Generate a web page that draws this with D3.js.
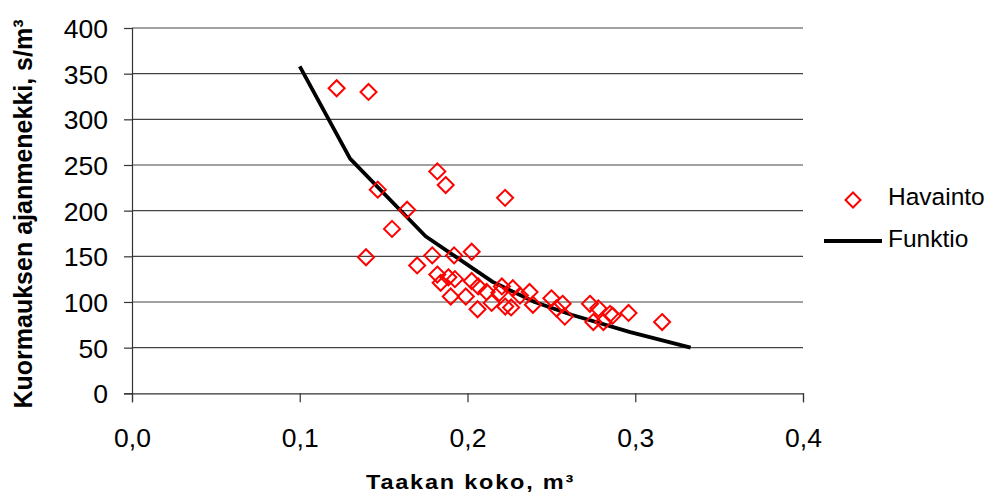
<!DOCTYPE html>
<html>
<head>
<meta charset="utf-8">
<script src="https://cdn.jsdelivr.net/npm/d3@7"></script>
<style>
  html, body { margin: 0; padding: 0; background: #fff; }
  svg text { font-family: "Liberation Sans", Arial, sans-serif; fill: #000; }
</style>
</head>
<body>
<svg id="chart" width="988" height="502"></svg>
<script>
// Observed load sizes (m³) and loading times (s/m³)
const obsSize = [0.122, 0.141, 0.182, 0.187, 0.1465, 0.164, 0.2224, 0.155, 0.1395, 0.170,
                 0.179, 0.192, 0.2025, 0.182, 0.1886, 0.1925, 0.184, 0.2025, 0.2064, 0.190,
                 0.199, 0.206, 0.2114, 0.2144, 0.219, 0.2205, 0.227, 0.226, 0.2225, 0.2313,
                 0.237, 0.239, 0.250, 0.253, 0.2567, 0.258, 0.273, 0.278, 0.275, 0.281,
                 0.285, 0.2865, 0.296, 0.316];
const obsTime = [334, 330, 243, 228, 223, 201, 214, 180, 149, 140,
                 151, 151, 155, 130, 127, 125, 121, 123, 117, 106,
                 106, 92, 111, 99, 110, 117, 115, 94, 95, 107,
                 111, 97, 104, 93, 98, 84, 98, 93, 78, 78,
                 87, 85, 88, 78];

// Fitted function evaluated at selected load sizes
const fnSize = [0.10, 0.13, 0.175, 0.215, 0.24, 0.262, 0.297, 0.333];
const fnTime = [358, 257, 172, 122, 100, 86, 67, 50];

const xTicks = [0, 0.1, 0.2, 0.3, 0.4];
const yTicks = [0, 50, 100, 150, 200, 250, 300, 350, 400];
const seriesNames = ["Havainto", "Funktio"];

const svg = d3.select("#chart");
const x = d3.scaleLinear().domain([0, 0.4]).range([132, 803]);
const y = d3.scaleLinear().domain([0, 400]).range([393.3, 28]);
const fmtX = d => d3.format(".1f")(d).replace(".", ",");

// horizontal gridlines
svg.append("g").selectAll("line").data(yTicks.filter(d => d > 0)).join("line")
  .attr("x1", x(0)).attr("x2", x(0.4))
  .attr("y1", d => y(d)).attr("y2", d => y(d))
  .attr("stroke", "#444").attr("stroke-width", 1.2);

// y axis
const yAxis = svg.append("g").attr("transform", `translate(${x(0)},0)`)
  .call(d3.axisLeft(y).tickValues(yTicks).tickSize(8).tickPadding(16).tickFormat(d3.format("d")));
yAxis.select(".domain").attr("stroke", "#333").attr("stroke-width", 1.2);
yAxis.selectAll(".tick line").attr("stroke", "#333").attr("stroke-width", 1.2);
yAxis.selectAll(".tick text").attr("font-size", 26.5).attr("font-family", "Liberation Sans, Arial, sans-serif")
  .attr("fill", "#000").attr("dy", "0.36em");

// x axis
const xAxis = svg.append("g").attr("transform", `translate(0,${y(0)})`)
  .call(d3.axisBottom(x).tickValues(xTicks).tickSize(9).tickPadding(26).tickFormat(fmtX));
xAxis.select(".domain").attr("stroke", "#333").attr("stroke-width", 1.2);
xAxis.selectAll(".tick line").attr("stroke", "#333").attr("stroke-width", 1.2);
xAxis.selectAll(".tick text").attr("font-size", 26.5).attr("font-family", "Liberation Sans, Arial, sans-serif")
  .attr("fill", "#000");

// fitted curve
const line = d3.line().x((d, i) => x(fnSize[i])).y(d => y(d));
svg.append("path").datum(fnTime)
  .attr("d", line)
  .attr("fill", "none").attr("stroke", "#000").attr("stroke-width", 3.8)
  .attr("stroke-linejoin", "round");

// observations as open diamonds
const diamond = (cx, cy, r) => `M${cx},${cy - r}L${cx + r},${cy}L${cx},${cy + r}L${cx - r},${cy}Z`;
svg.append("g").selectAll("path").data(obsTime).join("path")
  .attr("d", (d, i) => diamond(x(obsSize[i]), y(d), 8))
  .attr("fill", "none").attr("stroke", "#ff0000").attr("stroke-width", 2);

// legend
const lg = svg.append("g");
lg.append("path").attr("d", diamond(853, 200, 7.5))
  .attr("fill", "none").attr("stroke", "#ff0000").attr("stroke-width", 2);
lg.append("line").attr("x1", 824).attr("x2", 882).attr("y1", 241).attr("y2", 241)
  .attr("stroke", "#000").attr("stroke-width", 3.8);
lg.selectAll("text").data(seriesNames).join("text")
  .attr("x", 888).attr("y", (d, i) => i === 0 ? 205 : 247)
  .attr("font-size", 24.5).text(d => d);

// axis titles
svg.append("text")
  .attr("transform", "translate(32,214) rotate(-90)")
  .attr("text-anchor", "middle").attr("font-weight", "bold").attr("font-size", 25)
  .text("Kuormauksen ajanmenekki, s/m³");
svg.append("text")
  .attr("x", 366).attr("y", 489)
  .attr("font-weight", "bold").attr("font-size", 20).attr("letter-spacing", 1.5)
  .attr("textLength", 209).attr("lengthAdjust", "spacingAndGlyphs")
  .text("Taakan koko, m³");
</script>
</body>
</html>
